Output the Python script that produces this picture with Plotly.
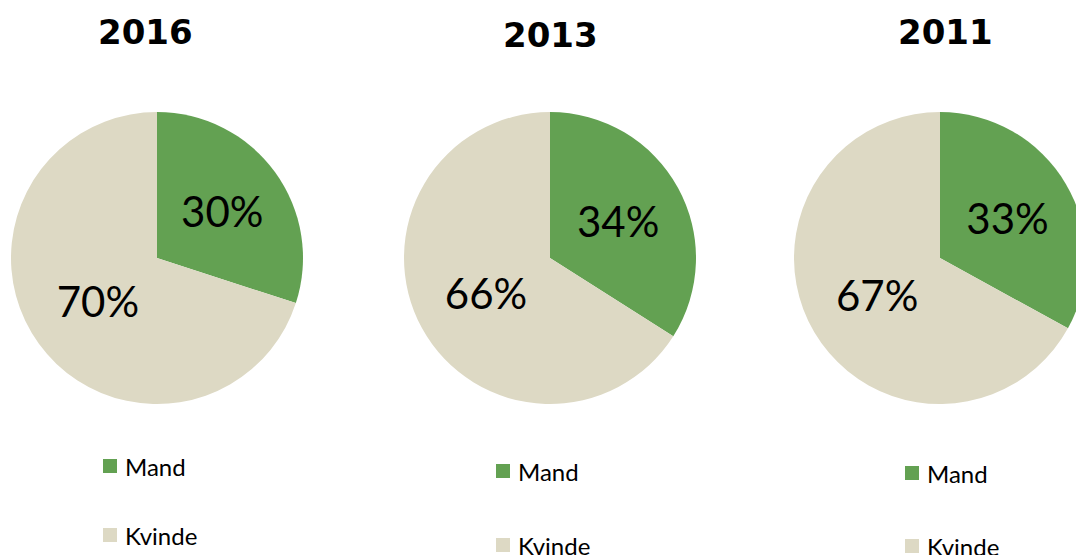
import plotly.graph_objects as go

years = ["2016", "2013", "2011"]
labels = ["Mand", "Kvinde"]
mand = [30, 34, 33]
kvinde = [70, 66, 67]
colors = ["#63A152", "#DDD9C4"]

W, H = 1090, 555
OFF = 0  # page body margin (removed below)
# pie geometry in page pixels (center x, center y from top, radius)
centers = [(157, 258), (550, 258), (940, 258)]
R = 146
title_pos = [(145, 32), (550, 35), (945, 32)]
legend_pos = [(103, 466, 535), (496, 471, 545), (905, 473, 546)]


def px(x):
    return (x - OFF) / W


def py(y):
    return 1 - (y - OFF) / H


fig = go.Figure()
for i, yr in enumerate(years):
    cx, cy = centers[i]
    fig.add_trace(go.Pie(
        labels=labels,
        values=[mand[i], kvinde[i]],
        marker=dict(colors=colors, line=dict(width=0)),
        sort=False,
        direction="clockwise",
        rotation=0,
        textinfo="percent",
        textposition="inside",
        insidetextorientation="horizontal",
        textfont=dict(family="Lato", size=42, color="#000000"),
        domain=dict(x=[px(cx - R), px(cx + R)], y=[py(cy + R), py(cy - R)]),
        showlegend=False,
        hoverinfo="label+percent",
    ))
    tx, ty = title_pos[i]
    fig.add_annotation(x=px(tx), y=py(ty), xref="paper", yref="paper", text="<b>%s</b>" % yr,
                       showarrow=False, font=dict(family="DejaVu Sans", size=34, color="#000000"),
                       xanchor="center", yanchor="middle")
    lx, ly1, ly2 = legend_pos[i]
    for lab, col, ly in zip(labels, colors, [ly1, ly2]):
        fig.add_shape(type="rect", xref="paper", yref="paper",
                      x0=px(lx), x1=px(lx + 14), y0=py(ly + 7), y1=py(ly - 7),
                      fillcolor=col, line=dict(width=0))
        fig.add_annotation(x=px(lx + 20), y=py(ly), xref="paper", yref="paper", text=lab,
                           showarrow=False, font=dict(family="Lato", size=24, color="#000000"),
                           xanchor="left", yanchor="middle")

fig.update_layout(width=W, height=H, margin=dict(l=0, r=0, t=0, b=0),
                  paper_bgcolor="#FFFFFF", plot_bgcolor="#FFFFFF")
fig.write_html(
    "out.html",
    config={"displayModeBar": False},
    post_script="document.body.style.margin='0';document.body.style.overflow='hidden';"
                "document.documentElement.style.overflow='hidden';",
)
